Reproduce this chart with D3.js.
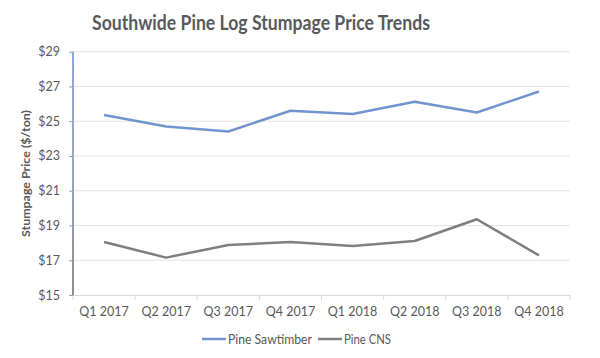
<!DOCTYPE html>
<html><head><meta charset="utf-8">
<script src="https://cdn.jsdelivr.net/npm/d3@7"></script>
<style>body{margin:0;background:#fff}svg{display:block}text{font-family:Lato,"Open Sans",sans-serif}</style>
</head><body>
<script>
const categories = ["Q1 2017","Q2 2017","Q3 2017","Q4 2017","Q1 2018","Q2 2018","Q3 2018","Q4 2018"];
const sawtimber = [25.36, 24.70, 24.41, 25.60, 25.41, 26.12, 25.50, 26.71];
const cns = [18.05, 17.15, 17.88, 18.05, 17.82, 18.11, 19.36, 17.28];
const yTicks = [15,17,19,21,23,25,27,29];
const seriesNames = ["Pine Sawtimber","Pine CNS"];
const colors = ["#7393CF","#7F7F7F"];

const W=600,H=358;
const svg=d3.select("body").append("svg").attr("width",W).attr("height",H);
const m={l:73,r:570,t:51.7,b:295};
const x=d3.scaleBand().domain(categories).range([m.l,m.r]);
const y=d3.scaleLinear().domain([15,29]).range([m.b,m.t]);

const defs=svg.append("defs");
const g=defs.append("linearGradient").attr("id","ag").attr("x1",0).attr("y1",0).attr("x2",0).attr("y2",1);
g.append("stop").attr("offset","0%").attr("stop-color","#8FA9DC");
g.append("stop").attr("offset","50%").attr("stop-color","#9BA6BD");
g.append("stop").attr("offset","100%").attr("stop-color","#8C8C8C");

// gridlines
svg.append("g").selectAll("line").data(yTicks.slice(1)).join("line")
  .attr("x1",m.l).attr("x2",m.r).attr("y1",d=>y(d)).attr("y2",d=>y(d))
  .attr("stroke","#E3E3E3").attr("stroke-width",1);

// x axis
const xa=svg.append("g").attr("transform",`translate(0,${m.b})`)
  .call(d3.axisBottom(x).tickSize(0).tickPadding(12));
xa.select(".domain").attr("stroke","#D9D9D9");
xa.selectAll("text").attr("fill","#595959").attr("font-size","12.5px");
svg.append("g").selectAll("line").data(categories.concat(["end"])).join("line")
  .attr("x1",(d,i)=>m.l+i*x.bandwidth()).attr("x2",(d,i)=>m.l+i*x.bandwidth())
  .attr("y1",m.b).attr("y2",m.b+5).attr("stroke","#D9D9D9");

// y axis
const ya=svg.append("g").attr("transform",`translate(${m.l},0)`)
  .call(d3.axisLeft(y).tickValues(yTicks).tickSize(4).tickPadding(9).tickFormat(d=>"$"+d));
ya.select(".domain").remove();
ya.selectAll("line").attr("stroke","#8E9BB8");
ya.selectAll("text").attr("fill","#595959").attr("font-size","12.5px");
svg.append("rect").attr("x",m.l-1).attr("y",m.t).attr("width",2).attr("height",m.b-m.t).attr("fill","url(#ag)");

// lines
const line=d3.line().x((d,i)=>x(categories[i])+x.bandwidth()/2).y(d=>y(d));
[sawtimber,cns].forEach((s,k)=>{
  svg.append("path").datum(s).attr("d",line).attr("fill","none")
    .attr("stroke",colors[k]).attr("stroke-width",2.5).attr("stroke-linejoin","round");
});

// title
svg.append("text").attr("x",261).attr("y",30).attr("text-anchor","middle")
  .attr("font-size","20px").attr("font-weight","bold").attr("fill","#595959")
  .attr("textLength",338).attr("lengthAdjust","spacingAndGlyphs")
  .text("Southwide Pine Log Stumpage Price Trends");

// y title
svg.append("text").attr("transform",`translate(29.5,173.5) rotate(-90)`)
  .attr("text-anchor","middle").attr("font-size","12px").attr("font-weight","bold").attr("fill","#595959")
  .attr("textLength",127).attr("lengthAdjust","spacingAndGlyphs")
  .text("Stumpage Price ($/ton)");

// legend
const lg=svg.append("g");
const lx=[202,318];
const lw=[84,47];
seriesNames.forEach((n,k)=>{
  lg.append("line").attr("x1",lx[k]).attr("x2",lx[k]+24).attr("y1",339).attr("y2",339)
    .attr("stroke",colors[k]).attr("stroke-width",2.5);
  lg.append("text").attr("x",lx[k]+26).attr("y",343.5).attr("font-size","12.5px").attr("fill","#595959")
    .attr("textLength",lw[k]).attr("lengthAdjust","spacingAndGlyphs").text(n);
});
</script>
</body></html>
